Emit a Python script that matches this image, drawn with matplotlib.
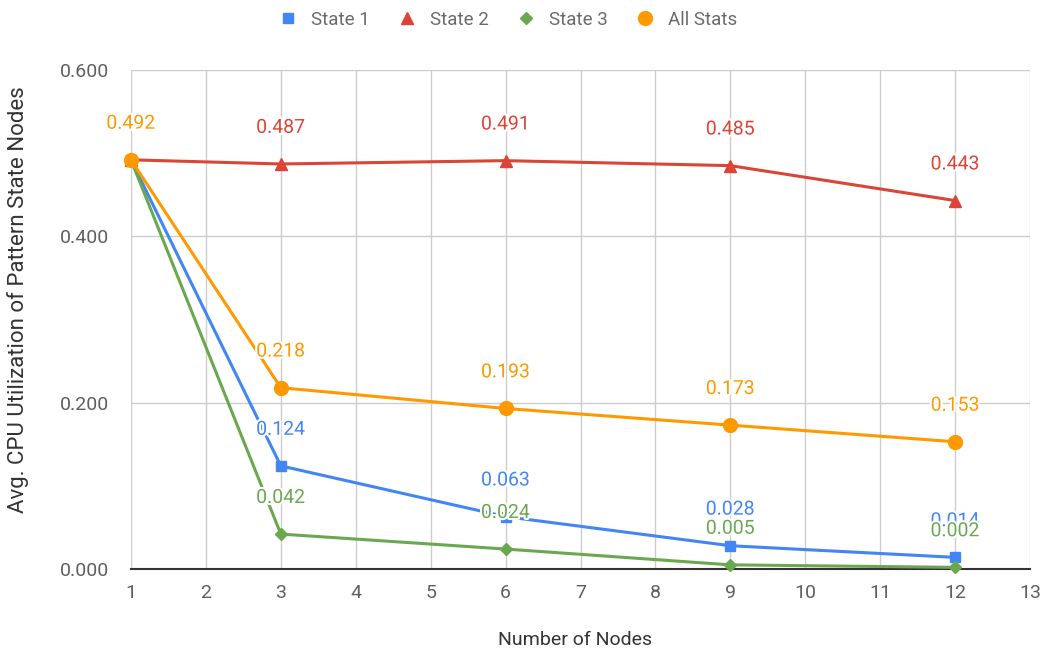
import matplotlib
matplotlib.use("Agg")
import matplotlib.pyplot as plt
import matplotlib.patheffects as pe

plt.rcParams['font.family'] = ['Roboto', 'DejaVu Sans']

# === Data
nodes = [1, 3, 6, 9, 12]
state1 = [0.492, 0.124, 0.063, 0.028, 0.014]
state2 = [0.492, 0.487, 0.491, 0.485, 0.443]
state3 = [0.492, 0.042, 0.024, 0.005, 0.002]
all_stats = [0.492, 0.218, 0.193, 0.173, 0.153]

series = [
    ("State 1", state1, "#4285F4", "s", 7),
    ("State 2", state2, "#DB4437", "^", 8),
    ("State 3", state3, "#6AA84F", "D", 6),
    ("All Stats", all_stats, "#FF9900", "o", 10),
]

fig = plt.figure(figsize=(10.51, 6.56), dpi=100)
ax = fig.add_axes([0.1246, 0.1326, 0.8555, 0.7607])

for name, vals, color, marker, ms in series:
    ax.plot(nodes, vals, color=color, lw=2.2, marker=marker, markersize=ms,
            label=name, zorder=3, clip_on=False)

# === Data labels (first point only shown for All Stats, like the original)
for name, vals, color, marker, ms in series:
    for i, (x, y) in enumerate(zip(nodes, vals)):
        if i == 0 and name != "All Stats":
            continue
        ax.annotate(f"{y:.3f}", (x, y), xytext=(0, 26), textcoords="offset points",
                    ha="center", va="center", fontsize=14, color=color, zorder=5,
                    path_effects=[pe.withStroke(linewidth=3, foreground="white")])

ax.set_xlim(1, 13)
ax.set_ylim(0, 0.6)
ax.set_xticks(range(1, 14))
ax.set_yticks([0, 0.2, 0.4, 0.6])
ax.set_yticklabels(["0.000", "0.200", "0.400", "0.600"])
ax.grid(True, color="#cccccc", lw=1)
ax.set_axisbelow(True)
for s in ["top", "right", "left"]:
    ax.spines[s].set_visible(False)
ax.spines["bottom"].set_color("#333333")
ax.spines["bottom"].set_linewidth(1.5)
ax.tick_params(length=0, labelsize=14, labelcolor="#5f5f5f")
ax.tick_params(axis="x", pad=11)
ax.tick_params(axis="y", pad=16)

# === Axis titles
fig.text(575 / 1051, 1 - 640 / 656, "Number of Nodes", fontsize=14,
         color="#333333", ha="center", va="center")
fig.text(18 / 1051, 1 - 300 / 656, "Avg. CPU Utilization of Pattern State Nodes",
         fontsize=16, color="#333333", ha="center", va="center", rotation=90)

# === Legend
handles, labels = ax.get_legend_handles_labels()
leg = fig.legend(handles, labels, loc="center", bbox_to_anchor=(508 / 1051, 1 - 20 / 656),
                 ncol=4, frameon=False, fontsize=13.5, labelcolor="#6b6b6b",
                 handlelength=1, handletextpad=0.73, columnspacing=1.47)
for h in leg.legend_handles:
    h.set_linestyle("none")

fig.savefig("out.png", dpi=100)
